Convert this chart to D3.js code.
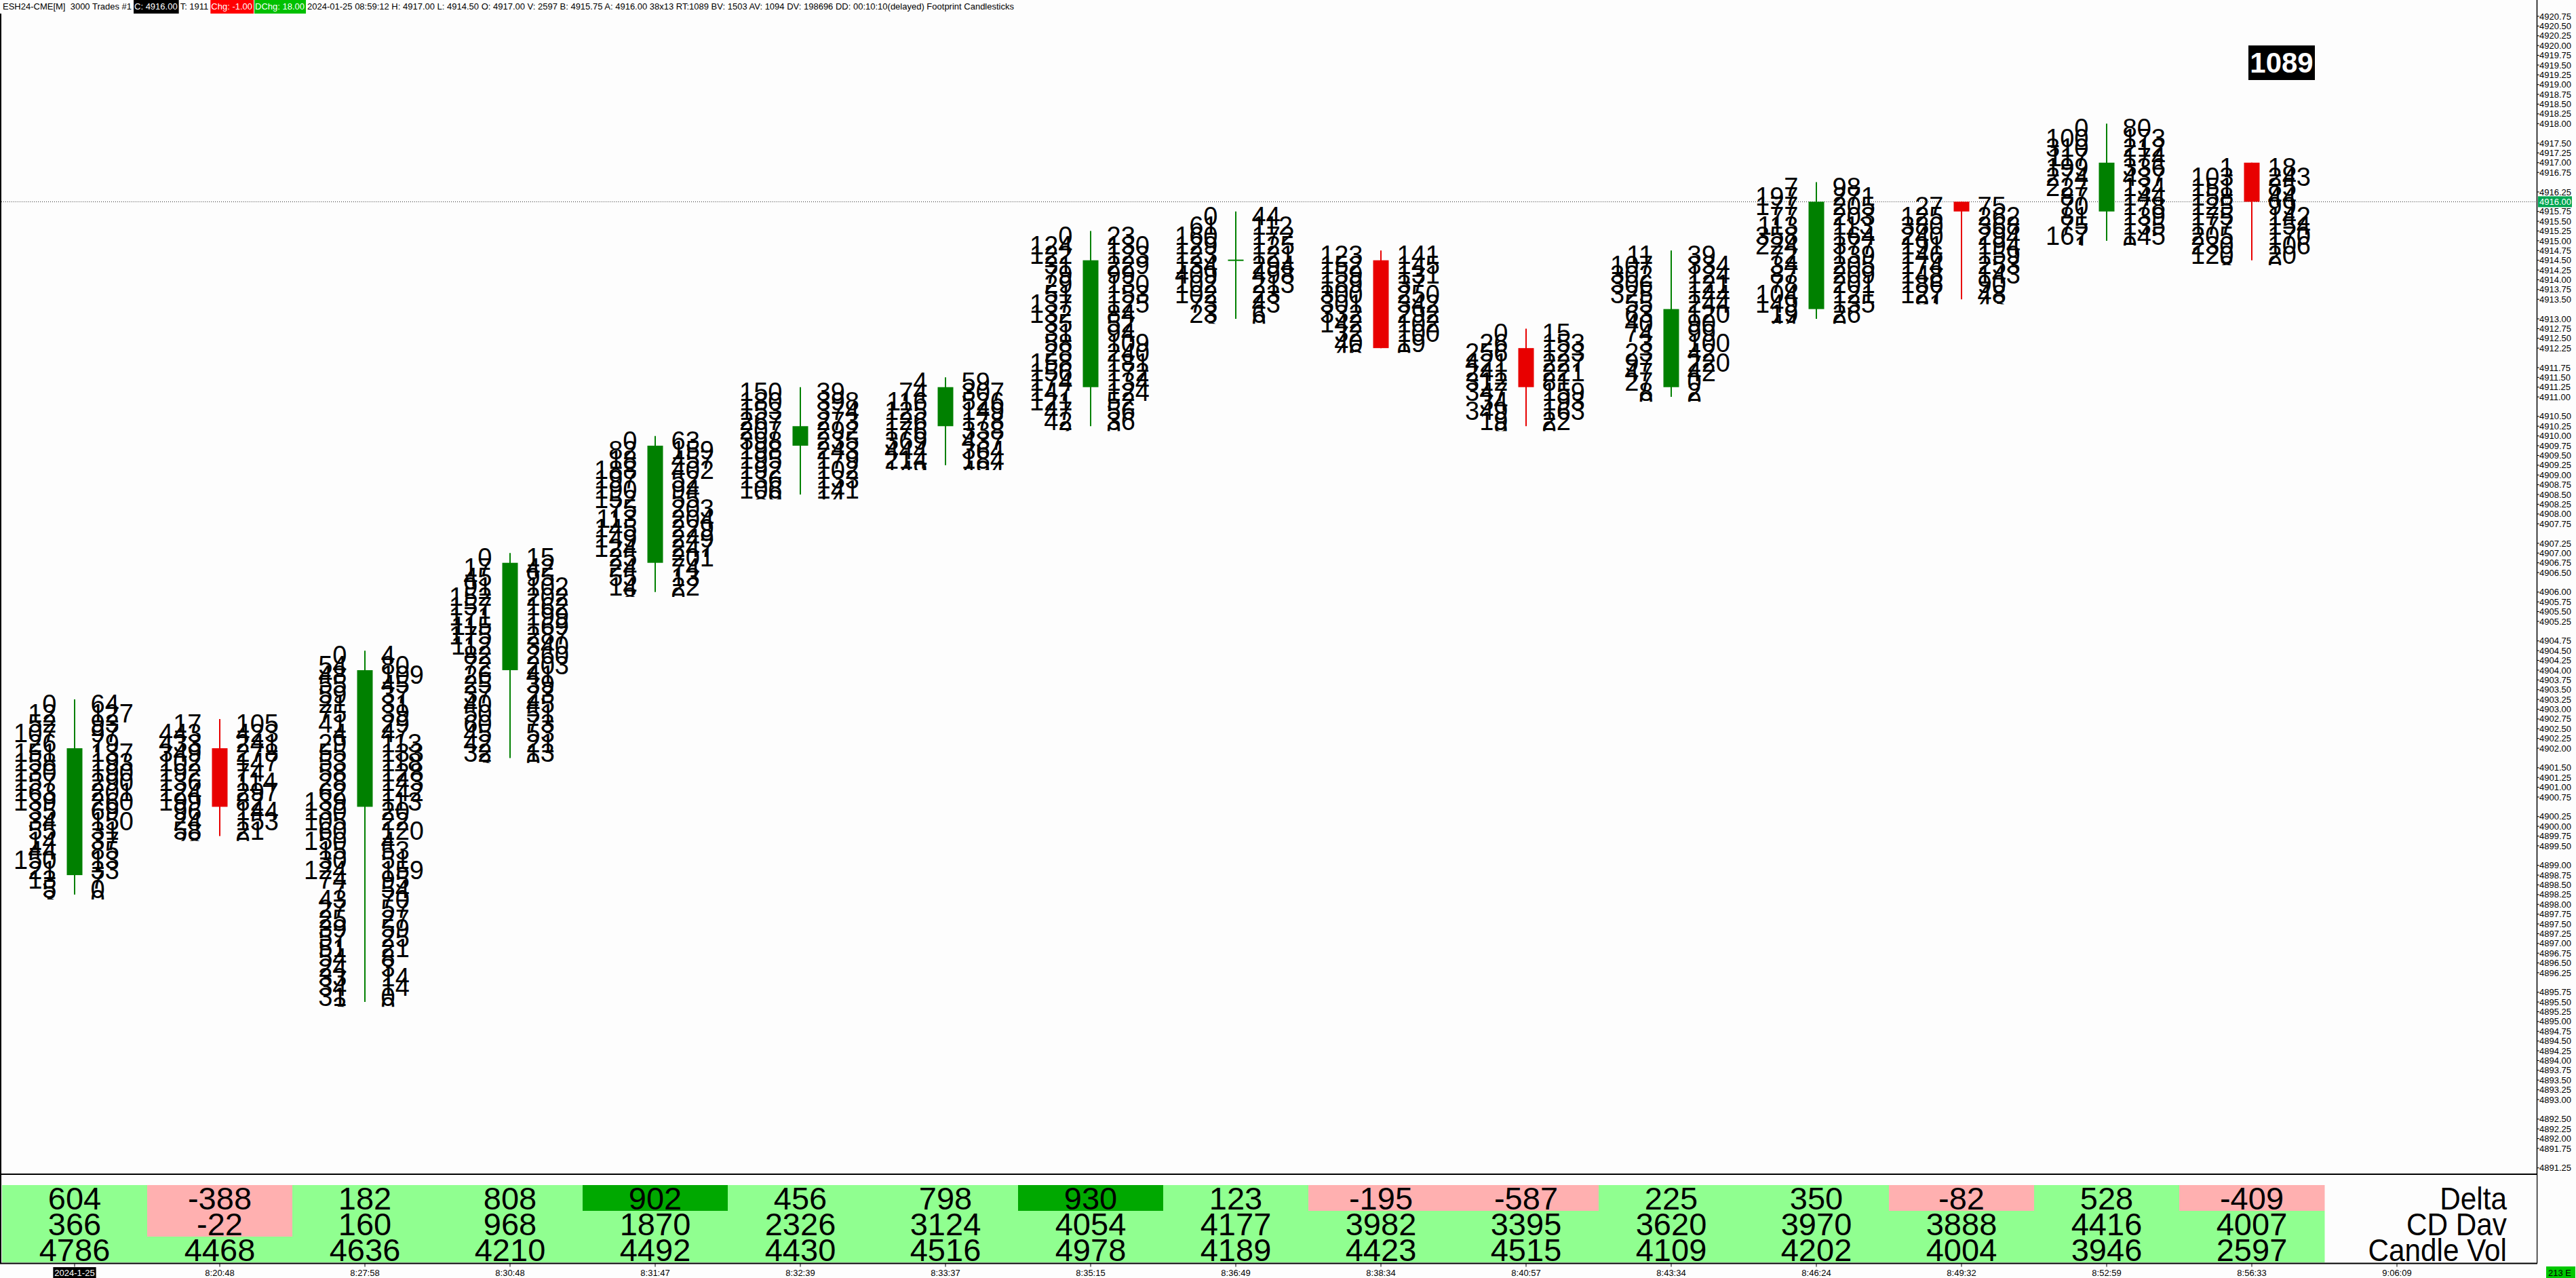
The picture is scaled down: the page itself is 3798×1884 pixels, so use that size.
<!DOCTYPE html>
<html><head><meta charset="utf-8">
<script src="https://cdn.jsdelivr.net/npm/d3@7"></script>
<style>
html,body{margin:0;padding:0;background:#fdfdfd;overflow:hidden;}
svg{display:block;}
text{font-family:"Liberation Sans",Arial,sans-serif;white-space:pre;}
</style></head><body>
<svg id="c" width="3798" height="1884"></svg>
<script>
// ---------- DATA ----------
const times = ["2024-1-25","8:20:48","8:27:58","8:30:48","8:31:47","8:32:39","8:33:37","8:35:15","8:36:49","8:38:34","8:40:57","8:43:34","8:46:24","8:49:32","8:52:59","8:56:33","9:06:09"];
const opens  = [4898.75,4902.00,4900.50,4904.00,4906.75,4909.75,4910.25,4911.25,4914.50,4914.50,4912.25,4911.25,4913.25,4916.00,4915.75,4917.00];
const highs  = [4903.25,4902.75,4904.50,4907.00,4910.00,4911.25,4911.50,4915.25,4915.75,4914.75,4912.75,4914.75,4916.50,4916.00,4918.00,4917.00];
const lows   = [4898.25,4899.75,4895.50,4901.75,4906.00,4908.50,4909.25,4910.25,4913.00,4912.25,4910.25,4911.00,4913.00,4913.50,4915.00,4914.50];
const closes = [4902.00,4900.50,4904.00,4906.75,4909.75,4910.25,4911.25,4914.50,4914.50,4912.25,4911.25,4913.25,4916.00,4915.75,4917.00,4916.00];
// footprint: bid (left) and ask (right) volume per price level, high -> low
const bidVol = [
 [0,12,52,107,26,151,158,130,157,163,139,35,34,55,14,44,150,21,13,5,3],
 [17,443,433,349,102,192,136,124,199,96,24,58,28],
 [0,54,48,55,59,21,75,41,4,29,55,53,58,28,62,139,130,105,60,150,15,30,124,74,7,43,27,25,39,57,51,54,24,33,34,31,3],
 [0,17,45,91,152,157,171,115,175,112,82,72,26,25,37,40,50,60,45,42,32,3],
 [0,82,18,188,197,190,152,75,113,145,149,124,25,24,55,14,8],
 [150,180,153,267,207,398,198,195,192,136,106,89],
 [4,74,116,125,126,176,369,444,214,149],
 [0,124,122,31,79,29,51,137,132,35,31,58,28,158,156,174,147,121,47,42,2],
 [0,61,160,129,123,134,409,102,102,73,23,3],
 [123,152,159,189,300,301,332,142,32,40,46],
 [0,26,256,421,241,312,347,34,349,19,9],
 [11,107,302,306,325,55,63,40,74,3,23,97,47,27,8,0],
 [7,197,177,77,113,358,224,72,34,87,78,104,149,19,44],
 [27,125,380,240,191,146,174,148,186,127,91],
 [0,100,310,117,199,274,227,87,70,81,75,167,1],
 [1,103,151,158,125,175,177,205,230,120,8]
];
const askVol = [
 [64,127,93,97,79,137,193,190,290,201,260,69,150,31,37,85,13,33,7,0,0],
 [105,423,241,278,147,74,114,297,82,144,153,21,0],
 [4,80,109,45,37,31,39,29,47,113,133,118,128,143,142,113,20,22,120,4,53,51,159,95,54,70,57,27,59,25,21,8,3,14,14,0,0],
 [15,42,95,102,202,162,199,169,287,340,260,203,41,39,23,45,51,73,53,21,13,0],
 [63,159,457,402,52,94,55,203,204,229,249,247,201,74,13,22,0],
 [39,398,374,273,292,235,243,179,102,133,141,14],
 [59,307,526,149,178,338,437,364,184,494],
 [23,130,123,229,99,130,153,125,84,52,94,109,240,181,172,134,124,52,56,36,0],
 [44,112,172,125,121,294,498,213,23,43,6,0],
 [141,145,131,37,250,342,292,102,100,19,0],
 [15,153,123,227,221,81,159,193,163,22,0],
 [39,334,124,121,144,244,120,90,99,100,42,220,42,0,2,0],
 [98,271,205,203,113,164,377,139,205,209,201,121,135,26,0],
 [75,262,368,294,194,159,253,143,90,48,43],
 [80,173,212,174,336,437,134,144,178,139,135,145,0],
 [18,243,85,44,99,142,154,170,106,20,0]
];
const delta  = [604,-388,182,808,902,456,798,930,123,-195,-587,225,350,-82,528,-409];
const cdDav  = [366,-22,160,968,1870,2326,3124,4054,4177,3982,3395,3620,3970,3888,4416,4007];
const candleVol = [4786,4468,4636,4210,4492,4430,4516,4978,4189,4423,4515,4109,4202,4004,3946,2597];
const rowLabels = ["Delta","CD Dav","Candle Vol"];
const priceTicks = ["4920.75","4920.50","4920.25","4920.00","4919.75","4919.50","4919.25","4919.00","4918.75","4918.50","4918.25","4918.00","4917.50","4917.25","4917.00","4916.75","4916.25","4915.75","4915.50","4915.25","4915.00","4914.75","4914.50","4914.25","4914.00","4913.75","4913.50","4913.00","4912.75","4912.50","4912.25","4911.75","4911.50","4911.25","4911.00","4910.50","4910.25","4910.00","4909.75","4909.50","4909.25","4909.00","4908.75","4908.50","4908.25","4908.00","4907.75","4907.25","4907.00","4906.75","4906.50","4906.00","4905.75","4905.50","4905.25","4904.75","4904.50","4904.25","4904.00","4903.75","4903.50","4903.25","4903.00","4902.75","4902.50","4902.25","4902.00","4901.50","4901.25","4901.00","4900.75","4900.25","4900.00","4899.75","4899.50","4899.00","4898.75","4898.50","4898.25","4898.00","4897.75","4897.50","4897.25","4897.00","4896.75","4896.50","4896.25","4895.75","4895.50","4895.25","4895.00","4894.75","4894.50","4894.25","4894.00","4893.75","4893.50","4893.25","4893.00","4892.50","4892.25","4892.00","4891.75","4891.25"];
const lastPrice = 4916.00;
const rtValue = "1089";
const header = [
 ["ESH24-CME[M]  3000 Trades #1", null, "#000"],
 ["C: 4916.00", "#000", "#fff"],
 ["T: 1911", null, "#000"],
 ["Chg: -1.00", "#ff0000", "#fff"],
 ["DChg: 18.00", "#00c000", "#fff"],
 ["2024-01-25 08:59:12 H: 4917.00 L: 4914.50 O: 4917.00 V: 2597 B: 4915.75 A: 4916.00 38x13 RT:1089 BV: 1503 AV: 1094 DV: 198696 DD: 00:10:10(delayed) Footprint Candlesticks", null, "#000"]
];

// ---------- LAYOUT ----------
const W = 3798, H = 1884;
const axisX = 3740;
const tableTop = 1731, rowTop0 = 1747, rowH = 38, tableBottom = 1862.5;
const y = d3.scaleLinear().domain([4920.75, 4891.25]).range([24, 1721.7]);
const x = d3.scaleLinear().domain([0, 16]).range([110, 3534]);
const step = x(1) - x(0);
const tickH = y(4920.50) - y(4920.75);
const GREEN = "#008000", RED = "#e80000";

const svg = d3.select("#c");
svg.append("rect").attr("width", W).attr("height", H).attr("fill", "#fdfdfd");

// header
const hdr = svg.append("g");
const hdrBg = hdr.append("g"), hdrTx = hdr.append("g");
let hx = 4;
header.forEach(([t, bg, fg]) => {
  const tx = hdrTx.append("text").attr("x", hx).attr("y", 14).attr("font-size", 13).attr("fill", fg).text(t);
  const w = tx.node().getComputedTextLength();
  if (bg) hdrBg.append("rect").attr("x", hx - 1).attr("y", 0).attr("width", w + 3).attr("height", 20).attr("fill", bg);
  hx += w + 4;
});

// frame
svg.append("line").attr("x1", 1).attr("x2", 1).attr("y1", 20).attr("y2", tableBottom).attr("stroke", "#000").attr("stroke-width", 2);

// last price dotted line
svg.append("line").attr("x1", 2).attr("x2", axisX).attr("y1", Math.round(y(lastPrice)) + 0.5).attr("y2", Math.round(y(lastPrice)) + 0.5)
  .attr("stroke", "#333").attr("stroke-width", 1).attr("stroke-dasharray", "1,2");

// candles + footprint
const defs = svg.append("defs");
const plot = svg.append("g");
opens.forEach((o, i) => {
  const c = closes[i], hi = highs[i], lo = lows[i];
  const col = c >= o ? GREEN : RED;
  const cx = x(i);
  defs.append("clipPath").attr("id", "clip" + i).append("rect")
    .attr("x", cx - step / 2).attr("width", step)
    .attr("y", y(hi) - tickH / 2).attr("height", y(lo) - y(hi) + tickH);
  const g = plot.append("g").attr("clip-path", `url(#clip${i})`);
  const levels = d3.range(bidVol[i].length).map(k => hi - k * 0.25);
  levels.forEach((p, k) => {
    g.append("text").attr("x", cx - 26.5).attr("y", y(p) + 20).attr("text-anchor", "end")
      .attr("font-size", 38).attr("fill", "#000").text(bidVol[i][k]);
    g.append("text").attr("x", cx + 23.5).attr("y", y(p) + 20).attr("text-anchor", "start")
      .attr("font-size", 38).attr("fill", "#000").text(askVol[i][k]);
  });
  plot.append("line").attr("x1", cx).attr("x2", cx).attr("y1", y(hi)).attr("y2", y(lo))
    .attr("stroke", col).attr("stroke-width", 2);
  const top = y(Math.max(o, c)), bot = y(Math.min(o, c));
  plot.append("rect").attr("x", cx - 11.5).attr("width", 23)
    .attr("y", bot - top < 2 ? top - 1 : top).attr("height", Math.max(2, bot - top)).attr("fill", col);
});

// right price axis
svg.append("line").attr("x1", axisX + 0.5).attr("x2", axisX + 0.5).attr("y1", 0).attr("y2", tableBottom).attr("stroke", "#000").attr("stroke-width", 1.5);
const ax = svg.append("g");
priceTicks.forEach(t => {
  const py = y(+t);
  ax.append("line").attr("x1", axisX).attr("x2", axisX + 4).attr("y1", py).attr("y2", py).attr("stroke", "#000");
  ax.append("text").attr("x", axisX + 4).attr("y", py + 4.6).attr("font-size", 13).attr("fill", "#000").text(t);
});
ax.append("rect").attr("x", axisX + 2).attr("y", y(lastPrice) - 8).attr("width", 50).attr("height", 16).attr("fill", "#00a651");
ax.append("text").attr("x", axisX + 4).attr("y", y(lastPrice) + 4.6).attr("font-size", 13).attr("fill", "#fff").text(lastPrice.toFixed(2));

// RT box
svg.append("rect").attr("x", 3315).attr("y", 67).attr("width", 98).attr("height", 51).attr("fill", "#000");
svg.append("text").attr("x", 3364).attr("y", 107).attr("text-anchor", "middle").attr("font-size", 42).attr("font-weight", "bold").attr("fill", "#fff").text(rtValue);

// table
const tbl = svg.append("g");
tbl.append("rect").attr("x", 1).attr("y", tableTop).attr("width", axisX - 1).attr("height", tableBottom - tableTop).attr("fill", "#fdfdfd");
const rows = [delta, cdDav, candleVol];
function cellColor(r, v) {
  if (v < 0) return "#ffb0b0";
  if (r === 0 && v >= 900) return "#00a800";
  return "#90ff90";
}
rows.forEach((vals, r) => {
  const ry = rowTop0 + r * rowH;
  vals.forEach((v, i) => {
    tbl.append("rect").attr("x", x(i) - step / 2).attr("y", ry).attr("width", step + 0.5).attr("height", rowH).attr("fill", cellColor(r, v));
    tbl.append("text").attr("x", x(i)).attr("y", ry + 36).attr("text-anchor", "middle").attr("font-size", 47).attr("fill", "#000").text(v);
  });
  const lab = tbl.append("text").attr("x", 3696).attr("y", ry + 36).attr("text-anchor", "end").attr("font-size", 47).attr("fill", "#000").text(rowLabels[r]);
  const lw = lab.node().getComputedTextLength();
  lab.attr("textLength", lw * 0.9).attr("lengthAdjust", "spacingAndGlyphs");
});
tbl.append("line").attr("x1", 0).attr("x2", axisX).attr("y1", tableTop).attr("y2", tableTop).attr("stroke", "#000").attr("stroke-width", 2);
tbl.append("line").attr("x1", 0).attr("x2", axisX + 1).attr("y1", tableBottom).attr("y2", tableBottom).attr("stroke", "#000").attr("stroke-width", 2);
tbl.append("line").attr("x1", 1).attr("x2", 1).attr("y1", tableTop).attr("y2", tableBottom).attr("stroke", "#000").attr("stroke-width", 2);

// time axis
const tx = svg.append("g");
times.forEach((t, i) => {
  const cx = x(i);
  tx.append("line").attr("x1", cx).attr("x2", cx).attr("y1", tableBottom).attr("y2", tableBottom + 5).attr("stroke", "#000");
  const el = tx.append("text").attr("x", cx).attr("y", 1881).attr("text-anchor", "middle").attr("font-size", 13).attr("fill", i === 0 ? "#fff" : "#000").text(t);
  if (i === 0) {
    const w = el.node().getComputedTextLength();
    tx.insert("rect", "text").attr("x", cx - w / 2 - 2).attr("y", 1868).attr("width", w + 4).attr("height", 16).attr("fill", "#000");
  }
});
svg.append("rect").attr("x", 3754).attr("y", 1867).attr("width", 43).attr("height", 17).attr("fill", "#00c800");
svg.append("text").attr("x", 3757).attr("y", 1881).attr("font-size", 13).attr("fill", "#000").text("213 E");
</script>
</body></html>
